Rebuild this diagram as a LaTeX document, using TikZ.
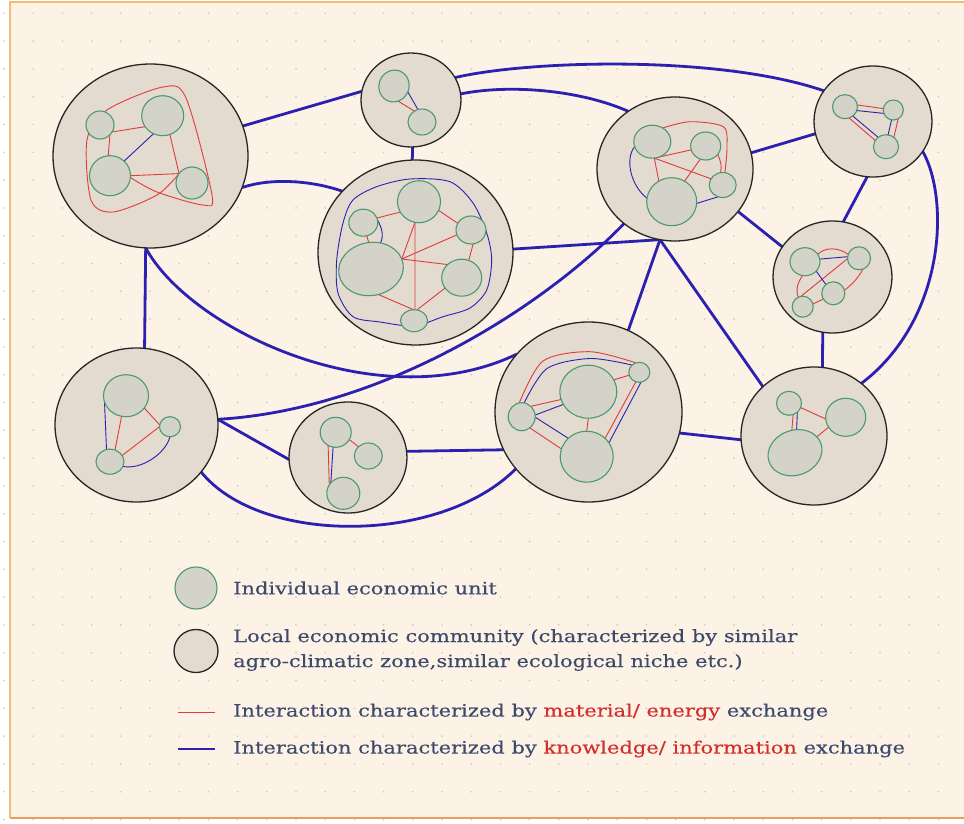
\documentclass[tikz,border=0pt]{standalone}
\usepackage{fontspec}
\setmainfont{DejaVu Serif}[FakeStretch=1.235,FakeBold=0.3]
\usetikzlibrary{shapes.geometric}
\pgfdeclarelayer{back}
\pgfdeclarelayer{links}
\pgfdeclarelayer{commL}
\pgfdeclarelayer{inner}
\pgfsetlayers{back,links,commL,inner,main}
\definecolor{bgc}{HTML}{FDF2E6}
\definecolor{commfill}{HTML}{E3DAD0}
\definecolor{unitfill}{HTML}{D4D3CA}
\definecolor{unitborder}{HTML}{4C9A6C}
\definecolor{kblue}{HTML}{2B20B0}
\definecolor{mred}{HTML}{E23B3B}
\definecolor{txt}{HTML}{3C4A6C}
\definecolor{txtred}{HTML}{D12F2A}
\definecolor{dotc}{HTML}{CFC6BC}
\definecolor{frameor}{HTML}{EDBE74}
\definecolor{framebot}{HTML}{EE9A60}
\begin{document}
\begin{tikzpicture}[x=1pt,y=-1pt,
 commnode/.style={ellipse, draw=black!85, line width=1.3pt, fill=commfill, inner sep=0pt, outer sep=0pt},
 unitnode/.style={ellipse, draw=unitborder, line width=1.1pt, fill=unitfill, inner sep=0pt, outer sep=0pt},
 linkline/.style={draw=kblue, line width=2.8pt},
 matline/.style={draw=mred, line width=0.9pt},
 knowline/.style={draw=kblue, line width=0.9pt},
 lbl/.style={anchor=west, text=txt, font=\fontsize{17}{25}\selectfont, inner sep=0pt, align=left}
]
\useasboundingbox (0,0) rectangle (964,824);
\begin{pgfonlayer}{back}
\fill[white] (0,0) rectangle (964,824);
\fill[bgc] (10,2) rectangle (964,818);
\foreach \i in {0,...,32}{\foreach \j in {0,...,29}{\fill[dotc] (4+29.2*\i,13.3+27.8*\j) circle (0.9pt);}}
\draw[frameor, line width=1.6pt] (964,2) -- (10,2) -- (10,818);
\draw[framebot, line width=1.6pt] (10,818) -- (964,818);
\end{pgfonlayer}

% communities
\begin{pgfonlayer}{commL}
\node[commnode, minimum width=195pt, minimum height=184pt] (c1) at (150.5,156) {};
\node[commnode, minimum width=100pt, minimum height=94pt] (c2) at (411,100) {};
\node[commnode, minimum width=195pt, minimum height=185pt] (c3) at (415.5,252.5) {};
\node[commnode, minimum width=156pt, minimum height=144pt] (c4) at (675,169) {};
\node[commnode, minimum width=118pt, minimum height=111pt] (c5) at (873,121.5) {};
\node[commnode, minimum width=119pt, minimum height=112pt] (c6) at (832.5,277) {};
\node[commnode, minimum width=146pt, minimum height=138pt] (c7) at (814,436) {};
\node[commnode, minimum width=187pt, minimum height=180pt] (c8) at (588.5,412) {};
\node[commnode, minimum width=163pt, minimum height=154pt] (c9) at (136.5,425) {};
\node[commnode, minimum width=118pt, minimum height=111pt] (c10) at (348,457.5) {};
\end{pgfonlayer}

% units
\node[unitnode, minimum width=28pt, minimum height=28pt] (u1a) at (100,125) {};
\node[unitnode, minimum width=42pt, minimum height=40pt] (u1b) at (162.7,115.7) {};
\node[unitnode, minimum width=41pt, minimum height=40pt] (u1c) at (110,175.7) {};
\node[unitnode, minimum width=32pt, minimum height=32pt] (u1d) at (192,183) {};
\node[unitnode, minimum width=30pt, minimum height=32pt, rotate=-20] (u2a) at (394,86) {};
\node[unitnode, minimum width=28pt, minimum height=26pt] (u2b) at (422,122) {};
\node[unitnode, minimum width=43pt, minimum height=42pt] (u3a) at (419,201.7) {};
\node[unitnode, minimum width=29pt, minimum height=27pt] (u3b) at (363.3,222.7) {};
\node[unitnode, minimum width=30pt, minimum height=28pt] (u3c) at (471,230) {};
\node[unitnode, minimum width=65pt, minimum height=53pt, rotate=10] (u3d) at (371,269) {};
\node[unitnode, minimum width=40pt, minimum height=37pt] (u3e) at (461.7,277.7) {};
\node[unitnode, minimum width=27pt, minimum height=22pt] (u3f) at (414,320.7) {};
\node[unitnode, minimum width=37pt, minimum height=33pt] (u4a) at (652.3,141.7) {};
\node[unitnode, minimum width=30pt, minimum height=28pt] (u4b) at (705.7,146) {};
\node[unitnode, minimum width=27pt, minimum height=25pt] (u4c) at (722.7,185) {};
\node[unitnode, minimum width=50pt, minimum height=48pt] (u4d) at (671.7,201.7) {};
\node[unitnode, minimum width=25pt, minimum height=24pt] (u5a) at (845,106.7) {};
\node[unitnode, minimum width=20pt, minimum height=20pt] (u5b) at (893.3,110) {};
\node[unitnode, minimum width=25pt, minimum height=24pt] (u5c) at (886,146.7) {};
\node[unitnode, minimum width=30pt, minimum height=28pt] (u6a) at (805,261.7) {};
\node[unitnode, minimum width=23pt, minimum height=23pt] (u6b) at (859,258.3) {};
\node[unitnode, minimum width=23pt, minimum height=23pt] (u6c) at (833.3,293.3) {};
\node[unitnode, minimum width=21pt, minimum height=21pt] (u6d) at (802.7,306.7) {};
\node[unitnode, minimum width=25pt, minimum height=24pt] (u7a) at (789,403.3) {};
\node[unitnode, minimum width=40pt, minimum height=38pt] (u7b) at (845.7,417.3) {};
\node[unitnode, minimum width=55pt, minimum height=45pt, rotate=20] (u7c) at (795,452.7) {};
\node[unitnode, minimum width=57pt, minimum height=53pt] (u8a) at (588.3,391.7) {};
\node[unitnode, minimum width=53pt, minimum height=51pt] (u8b) at (586.7,456.7) {};
\node[unitnode, minimum width=27pt, minimum height=28pt] (u8c) at (521.7,416.7) {};
\node[unitnode, minimum width=21pt, minimum height=20pt] (u8d) at (639.3,372.3) {};
\node[unitnode, minimum width=45pt, minimum height=42pt] (u9a) at (126,395.7) {};
\node[unitnode, minimum width=21pt, minimum height=20pt] (u9b) at (170,426.7) {};
\node[unitnode, minimum width=28pt, minimum height=25pt] (u9c) at (110,461.7) {};
\node[unitnode, minimum width=31pt, minimum height=30pt] (u10a) at (335.7,432.3) {};
\node[unitnode, minimum width=28pt, minimum height=26pt] (u10b) at (368.3,456) {};
\node[unitnode, minimum width=33pt, minimum height=32pt] (u10c) at (343.3,493.3) {};

% connectors between communities
\begin{pgfonlayer}{links}
\draw[linkline] (c1.18) -- (c2.170);
\draw[linkline] (c1.-19) .. controls (270,178) and (310,180) .. (c3.140);
\draw[linkline] (c2.-88) -- (c3.92);
\draw[linkline] (c2.27) .. controls (530,60) and (720,55) .. (c5.148);
\draw[linkline] (c2.7) .. controls (510,84) and (580,90) .. (c4.129);
\draw[linkline] (c4.12) -- (c5.192);
\draw[linkline] (c4.-34) -- (c6.149);
\draw[linkline] (c5.-96) -- (c6.79);
\draw[linkline] (c5.-31) .. controls (950,200) and (945,320) .. (c7.48);
\draw[linkline] (c6.-100) -- (c7.83);
\draw[linkline] (c4.-102) -- (c7.136);
\draw[linkline] (c4.-102) -- (c8.64);
\draw[linkline] (c4.-102) -- (c3.2);
\draw[linkline] (c4.-133) .. controls (540,310) and (380,410) .. (c9.4);
\draw[linkline] (c1.-93) .. controls (190,330) and (380,420) .. (c8.141);
\draw[linkline] (c1.-93) -- (c9.84);
\draw[linkline] (c9.4) -- (c10.182);
\draw[linkline] (c9.-36) .. controls (260,545) and (440,545) .. (c8.218);
\draw[linkline] (c10.6) -- (c8.204);
\draw[linkline] (c8.-13) -- (c7.183);
\end{pgfonlayer}

% interactions inside communities
\begin{pgfonlayer}{inner}
% C1
\draw[matline] (u1a.-30) -- (u1b.212);
\draw[matline] (u1a.-45) -- (u1c.95);
\draw[matline] (u1b.-69) -- (u1d.144);
\draw[matline] (u1c.0) -- (u1d.144);
\draw[knowline] (u1c.46) -- (u1b.243);
\draw[matline] plot[smooth] coordinates {(u1d.144) (157,195) (113,212) (91,200) (87,140) (107,110) (163,87) (186,98) (212,195) (203,205) (157,192) (u1c.-5)};
% C2
\draw[knowline] (u2a.-3) -- (u2b.108);
\draw[matline] (u2a.-55) -- (u2b.125);
% C3
\coordinate (hub) at (u3d.8);
\draw[knowline] plot[smooth cycle] coordinates {(353,200) (376.7,186.7) (410,179) (450,181.7) (473,203) (486.7,233) (491.7,260) (486.7,290) (470,308) (443,316.7) (414,326) (380,322) (353,316.7) (338,293) (336.7,260) (343,223)};
\draw[matline] (hub) -- (u3a.259);
\draw[matline] (hub) -- (u3c.199);
\draw[matline] (hub) -- (u3e.137);
\draw[matline] (u3a.259) -- (u3f.85);
\draw[matline] (u3d.-84) -- (u3f.92);
\draw[matline] (u3f.75) -- (u3e.212);
\draw[matline] (u3b.19) -- (u3a.209);
\draw[matline] (u3a.-24) -- (u3c.153);
\draw[matline] (u3c.-81) -- (u3e.68);
\draw[matline] (u3b.-75) -- (u3d.85);
\draw[knowline] (u3b.10) .. controls (382,228) and (384,236) .. (u3d.60);
% C4
\draw[matline] (u4a.-83) -- (u4b.195);
\draw[matline] (u4a.-83) -- (u4c.152);
\draw[matline] (u4a.-83) -- (u4d.122);
\draw[matline] (u4b.-112) -- (u4d.58);
\draw[matline] plot[smooth] coordinates {(u4a.53) (690,121.7) (723.3,126.7) (727,147) (u4c.80)};
\draw[matline] (u4b.-35) .. controls (721,162) and (722,166) .. (u4c.100);
\draw[knowline] (u4a.196) .. controls (625,158) and (630,185) .. (u4d.172);
\draw[knowline] (u4d.-4) -- (u4c.249);
% C5
\draw[matline] (u5a.8) -- (u5b.172);
\draw[knowline] (u5a.-18) -- (u5b.200);
\draw[matline] (u5a.-70) -- (u5c.150);
\draw[knowline] (u5a.-50) -- (u5c.130);
\draw[matline] (u5b.-60) -- (u5c.50);
\draw[knowline] (u5b.-100) -- (u5c.80);
% C6
\draw[knowline] (u6a.10) -- (u6b.172);
\draw[matline] (u6a.30) .. controls (825,247) and (838,247) .. (u6b.160);
\draw[matline] (u6b.182) -- (u6d.100);
\draw[knowline] (u6a.-40) -- (u6c.130);
\draw[matline] (u6a.-100) .. controls (796,285) and (796,292) .. (u6d.115);
\draw[matline] (u6b.-70) .. controls (857,280) and (851,285) .. (u6c.15);
\draw[matline] (u6d.15) -- (u6c.210);
% C7
\draw[matline] (u7a.-20) -- (u7b.185);
\draw[knowline] (u7a.-47) -- (u7c.66);
\draw[matline] (u7a.-70) -- (u7c.78);
\draw[matline] (u7c.16) -- (u7b.210);
% C8
\draw[matline] (u8a.-90) -- (u8b.90);
\draw[matline] (u8c.49) -- (u8a.196);
\draw[knowline] (u8c.7) -- (u8a.207);
\draw[matline] (u8c.-54) -- (u8b.163);
\draw[knowline] (u8c.-2) -- (u8b.135);
\draw[matline] (u8a.25) -- (u8d.196);
\draw[matline] plot[smooth] coordinates {(u8c.100) (543,361) (590,351.7) (u8d.110)};
\draw[knowline] plot[smooth] coordinates {(u8c.80) (547,368.5) (590,358.5) (u8d.135)};
\draw[matline] (u8d.-110) -- (u8b.45);
\draw[knowline] (u8d.-80) -- (u8b.32);
% C9
\draw[knowline] (u9a.196) -- (u9c.106);
\draw[matline] (u9a.-102) -- (u9c.67);
\draw[matline] (u9a.-34) -- (u9b.170);
\draw[matline] (u9c.27) -- (u9b.180);
\draw[knowline] (u9c.-20) .. controls (140,470) and (165,455) .. (u9b.-90);
% C10
\draw[matline] (u10a.-120) -- (u10c.149);
\draw[knowline] (u10a.-100) -- (u10c.140);
\draw[matline] (u10a.-28) -- (u10b.137);
\end{pgfonlayer}

% legend
\node[unitnode, minimum width=42pt, minimum height=42pt] (lu) at (196,588) {};
\node[commnode, minimum width=44pt, minimum height=43pt] (lc) at (196,651) {};
\coordinate (lr1) at (178,712); \coordinate (lr2) at (215,712);
\draw[matline] (lr1) -- (lr2);
\coordinate (lb1) at (178,749); \coordinate (lb2) at (215,749);
\draw[knowline, line width=2pt] (lb1) -- (lb2);
\node[lbl] (t1) at (233,588) {Individual economic unit};
\node[lbl] (t2) at (233,650) {Local economic community (characterized by similar\\agro-climatic zone,similar ecological niche etc.)};
\node[lbl] (t3) at (233,712) {Interaction characterized by \textcolor{txtred}{material/ energy} exchange};
\node[lbl] (t4) at (233,749) {Interaction characterized by \textcolor{txtred}{knowledge/ information} exchange};
\end{tikzpicture}
\end{document}
